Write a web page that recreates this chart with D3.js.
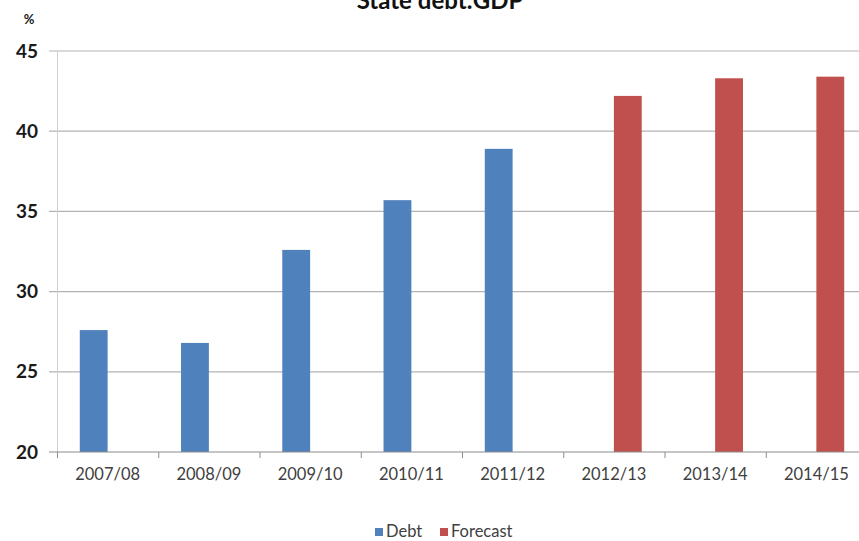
<!DOCTYPE html>
<html>
<head>
<meta charset="utf-8">
<script src="https://cdn.jsdelivr.net/npm/d3@7/dist/d3.min.js"></script>
<style>
  html, body { margin: 0; padding: 0; background: #fff; }
  svg { display: block; }
  text { font-family: Lato, "Open Sans", sans-serif; }
</style>
</head>
<body>
<svg id="chart" width="859" height="541"></svg>
<script>
const categories = ["2007/08","2008/09","2009/10","2010/11","2011/12","2012/13","2013/14","2014/15"];
const seriesNames = ["Debt","Forecast"];
const debtValues = [27.6, 26.8, 32.6, 35.7, 38.9, null, null, null];
const forecastValues = [null, null, null, null, null, 42.2, 43.3, 43.4];
const yTicks = [20, 25, 30, 35, 40, 45];
const colors = {Debt: "#4F81BD", Forecast: "#C0504D"};
const title = "State debt:GDP";
const unitLabel = "%";

(function () {
const svg = d3.select("#chart");
const pLeft = 57, pRight = 867, pTop = 51, pBottom = 452;

const x0 = d3.scaleBand().domain(categories).range([pLeft, pRight]).padding(0);
const bw = x0.bandwidth();
const x1 = d3.scaleBand().domain(seriesNames).range([bw * 0.225, bw * 0.775]).padding(0);
const y = d3.scaleLinear().domain([20, 45]).range([pBottom, pTop]);

// gridlines
svg.append("g").selectAll("line").data(yTicks.filter(t => t !== 20)).join("line")
  .attr("x1", pLeft - 8).attr("x2", pRight)
  .attr("y1", d => y(d)).attr("y2", d => y(d))
  .attr("stroke", "#b3b3b3").attr("stroke-width", 1.2);

// y axis line
svg.append("line").attr("x1", pLeft + 0.5).attr("x2", pLeft + 0.5)
  .attr("y1", pTop).attr("y2", pBottom)
  .attr("stroke", "#d0d0d0").attr("stroke-width", 1);

// bars
const rows = categories.map((c, i) => ({cat: c, Debt: debtValues[i], Forecast: forecastValues[i]}));
const g = svg.append("g");
rows.forEach(r => {
  seriesNames.forEach(s => {
    if (r[s] == null) return;
    g.append("rect")
      .attr("x", x0(r.cat) + x1(s))
      .attr("width", x1.bandwidth())
      .attr("y", y(r[s]))
      .attr("height", y(20) - y(r[s]))
      .attr("fill", colors[s]);
  });
});

// x axis
const xAxis = svg.append("g").attr("transform", `translate(0,${pBottom})`)
  .call(d3.axisBottom(x0).tickSize(0).tickPadding(16));
xAxis.select(".domain").remove();
xAxis.selectAll("text").attr("font-size", 16.5).attr("fill", "#404040")
  .attr("font-family", "Lato, sans-serif");
svg.append("line").attr("x1", pLeft - 8).attr("x2", pRight)
  .attr("y1", pBottom).attr("y2", pBottom).attr("stroke", "#8c8c8c").attr("stroke-width", 1.2);
// category ticks
svg.append("g").selectAll("line").data(categories).join("line")
  .attr("x1", d => x0(d) + 0.5).attr("x2", d => x0(d) + 0.5)
  .attr("y1", pBottom).attr("y2", pBottom + 6)
  .attr("stroke", "#8c8c8c");

// y axis labels
const yAxis = svg.append("g").attr("transform", `translate(${pLeft - 19},0)`)
  .call(d3.axisLeft(y).tickValues(yTicks).tickSize(0).tickPadding(0));
yAxis.select(".domain").remove();
yAxis.selectAll("text").attr("font-size", 19).attr("font-weight", "bold")
  .attr("fill", "#1a1a1a").attr("font-family", "Lato, sans-serif");

// unit label
svg.append("text").attr("x", 29).attr("y", 24).attr("text-anchor", "middle")
  .attr("font-size", 13).attr("font-weight", "bold").attr("fill", "#1a1a1a").text(unitLabel);

// title
svg.append("text").attr("x", 440).attr("y", 9).attr("text-anchor", "middle")
  .attr("font-size", 24).attr("font-weight", "bold").attr("fill", "#111").text(title);

// legend
const legend = svg.append("g");
const legendItems = [{name: "Debt", x: 375}, {name: "Forecast", x: 440}];
legendItems.forEach(it => {
  legend.append("rect").attr("x", it.x).attr("y", 528).attr("width", 8).attr("height", 8)
    .attr("fill", colors[it.name]);
  legend.append("text").attr("x", it.x + 11).attr("y", 537)
    .attr("font-size", 16.5).attr("fill", "#404040").text(it.name);
});
})();
</script>
</body>
</html>
